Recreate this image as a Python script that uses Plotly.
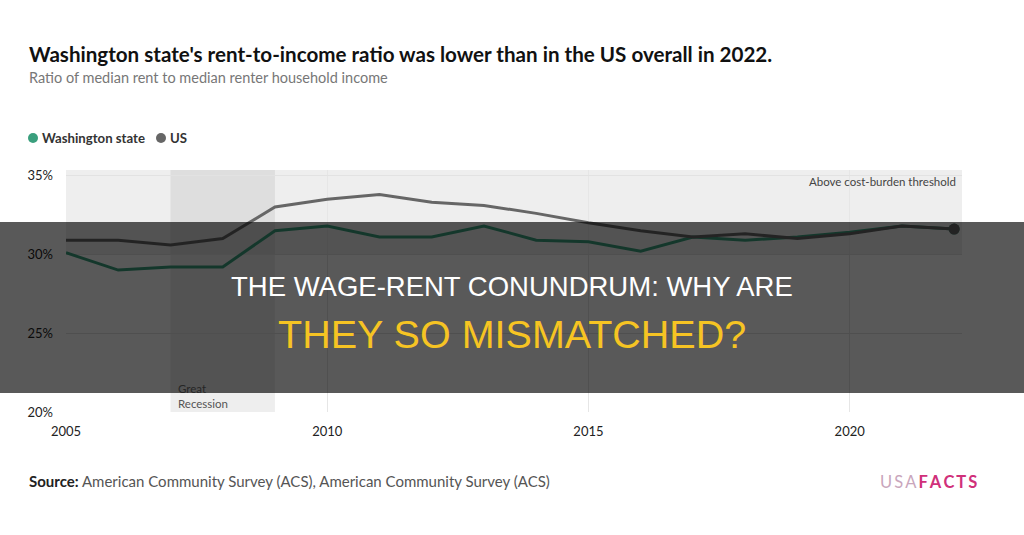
import plotly.graph_objects as go

years = list(range(2005, 2023))
washington = [30.1, 29.0, 29.2, 29.2, 31.5, 31.8, 31.1, 31.1, 31.8, 30.9, 30.8, 30.2, 31.1, 30.9, 31.1, 31.4, 31.8, 31.6]
us = [30.9, 30.9, 30.6, 31.0, 33.0, 33.5, 33.8, 33.3, 33.1, 32.6, 32.0, 31.5, 31.1, 31.3, 31.0, 31.3, 31.8, 31.6]
x_ticks = [2005, 2010, 2015, 2020]
y_ticks = [20, 25, 30, 35]
y_tick_labels = ["20%", "25%", "30%", "35%"]

GREEN = "#3a9f7d"
GRAY = "#666666"
FONT = "Lato"

fig = go.Figure()
fig.add_trace(go.Scatter(x=years, y=washington, mode="lines", line=dict(color=GREEN, width=3), hoverinfo="skip"))
fig.add_trace(go.Scatter(x=years, y=us, mode="lines", line=dict(color=GRAY, width=3), hoverinfo="skip"))
fig.add_trace(go.Scatter(x=years[-1:], y=washington[-1:], mode="markers", marker=dict(color=GREEN, size=11), hoverinfo="skip"))
fig.add_trace(go.Scatter(x=years[-1:], y=us[-1:], mode="markers", marker=dict(color=GRAY, size=11), hoverinfo="skip"))

L, R, T, B = 66, 62, 170, 123
W, H = 1024, 535
pw, ph = W - L - R, H - T - B

def px(xp):
    return (xp - L) / pw

def py(yp):
    return (H - B - yp) / ph

shapes = [
    dict(type="rect", xref="x", yref="y", x0=2005, x1=2022.15, y0=30, y1=35.35,
         fillcolor="rgba(0,0,0,0.065)", line=dict(width=0), layer="below"),
    dict(type="rect", xref="x", yref="y", x0=2007, x1=2009, y0=20, y1=35.35,
         fillcolor="rgba(0,0,0,0.065)", line=dict(width=0), layer="below"),
    # dark banner overlay
    dict(type="rect", xref="paper", yref="paper", x0=px(0), x1=px(W), y0=py(393), y1=py(222),
         fillcolor="rgba(0,0,0,0.65)", line=dict(width=0), layer="above"),
    # legend dots
    dict(type="circle", xref="paper", yref="paper", x0=px(28), x1=px(38), y0=py(143), y1=py(133),
         fillcolor=GREEN, line=dict(width=0)),
    dict(type="circle", xref="paper", yref="paper", x0=px(156), x1=px(166), y0=py(143), y1=py(133),
         fillcolor=GRAY, line=dict(width=0)),
]

def ann(xp, yp, text, size, color, xanchor="left", family=FONT):
    return dict(xref="paper", yref="paper", x=px(xp), y=py(yp), text=text, showarrow=False,
                xanchor=xanchor, yanchor="middle",
                font=dict(family=family, size=size, color=color))

annotations = [
    ann(27, 54, "<b>Washington state's rent-to-income ratio was lower than in the US overall in 2022.</b>", 20.6, "#111111"),
    ann(27, 77, "Ratio of median rent to median renter household income", 14.5, "#777777"),
    ann(40, 138, "<b>Washington state</b>", 13.2, "#333333"),
    ann(168, 138, "<b>US</b>", 13.2, "#333333"),
    ann(958, 181, "Above cost-burden threshold", 11.5, "#444444", xanchor="right"),
    ann(176, 388, "Great", 11.5, "#262626"),
    ann(176, 403, "Recession", 11.5, "#555555"),
    ann(27, 481, "<b>Source:</b> <span style='color:#555555'>American Community Survey (ACS), American Community Survey (ACS)</span>", 15, "#222222"),
    ann(928, 482, "<span style='color:#c9a6bc'>U\u2009S\u2009A\u2009</span><b style='color:#d0307a'>F\u2009A\u2009C\u2009T\u2009S</b>", 16.5, "#d0307a", xanchor="center"),
    ann(512, 286, "THE WAGE-RENT CONUNDRUM: WHY ARE", 27.5, "#ffffff", xanchor="center", family="Liberation Sans, Arial"),
    ann(512, 334, "THEY SO MISMATCHED?", 39.5, "#f6c423", xanchor="center", family="Liberation Sans, Arial"),
]

fig.update_layout(
    width=W, height=H,
    margin=dict(l=L, r=R, t=T, b=B, pad=0),
    paper_bgcolor="white", plot_bgcolor="white",
    showlegend=False,
    shapes=shapes, annotations=annotations,
    xaxis=dict(range=[2005, 2022.15], tickvals=x_ticks, ticktext=[str(v) for v in x_ticks],
               showgrid=True, gridcolor="#e6e6e6", gridwidth=1, zeroline=False, showline=False,
               ticks="", tickfont=dict(family=FONT, size=13, color="#222222"), ticklabelstandoff=10),
    yaxis=dict(range=[20, 35.35], tickvals=y_ticks, ticktext=y_tick_labels,
               showgrid=True, gridcolor="#e2e2e2", gridwidth=1, zeroline=False, showline=False,
               ticks="", tickfont=dict(family=FONT, size=13, color="#222222"), ticklabelstandoff=12),
)

fig.write_html("out.html")
